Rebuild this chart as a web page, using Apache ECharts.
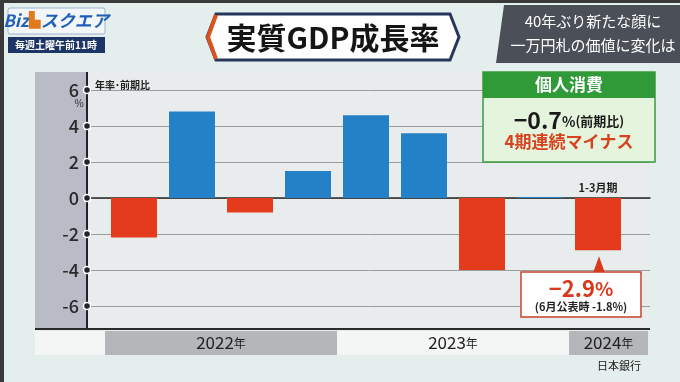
<!DOCTYPE html>
<html><head><meta charset="utf-8">
<script src="https://cdn.jsdelivr.net/npm/echarts@6/dist/echarts.min.js"></script>
<style>html,body{margin:0;padding:0;background:#e4eeed}#c{width:680px;height:382px}</style>
</head><body><div id="c"></div>
<script>
// ---- data ----
const quarters = ['2022Q1','2022Q2','2022Q3','2022Q4','2023Q1','2023Q2','2023Q3','2023Q4','2024Q1'];
const growth = [-2.2, 4.8, -0.8, 1.5, 4.6, 3.6, -4.0, 0.06, -2.9];
const yTicks = [-6, -4, -2, 0, 2, 4, 6];
const years = ['2022', '2023', '2024'];
const yearCounts = [4, 4, 1];

const FONT = '"Noto Sans CJK JP", "Noto Sans", sans-serif';
const BLUE = '#2481c8', RED = '#e33b1c';

const chart = echarts.init(document.getElementById('c'));

const option = {
  animation: false,
  backgroundColor: '#e4eeed',
  textStyle: { fontFamily: FONT },
  grid: [
    { left: 87, right: 30, top: 90, bottom: 76 },
    { left: 105, right: 53, top: 90, bottom: 76 }
  ],
  xAxis: [
    { gridIndex: 0, type: 'value', min: 0, max: 1, axisLabel: { show: false }, axisTick: { show: false }, splitLine: { show: false },
      axisLine: { onZero: true, lineStyle: { color: '#2a2a2a', width: 1.5 } } },
    { gridIndex: 1, type: 'category', data: quarters, show: false }
  ],
  yAxis: [
    { gridIndex: 0, type: 'value', min: -6, max: 6, interval: 2,
      axisLine: { show: false }, axisTick: { show: false },
      splitLine: { lineStyle: { color: '#9a9c9e', width: 1 } },
      axisLabel: { margin: 8, fontSize: 18, color: '#2a2a2a', fontFamily: FONT, fontWeight: 500, formatter: v => String(v) } },
    { gridIndex: 1, type: 'value', min: -6, max: 6, show: false }
  ],
  series: [
    { type: 'bar', xAxisIndex: 1, yAxisIndex: 1, barWidth: 46, z: 3,
      data: growth.map(v => ({ value: v, itemStyle: { color: v >= 0 ? BLUE : RED } })) },
    { type: 'scatter', xAxisIndex: 0, yAxisIndex: 0, symbol: 'circle', symbolSize: 7, z: 5,
      itemStyle: { color: '#1e2233', borderColor: '#ffffff', borderWidth: 1.5, opacity: 1 },
      data: yTicks.map(v => [0, v]) }
  ]
};
chart.setOption(option);

// decorations laid out from the axes
const slot = chart.convertToPixel({ xAxisIndex: 1 }, 1) - chart.convertToPixel({ xAxisIndex: 1 }, 0);
const firstStart = chart.convertToPixel({ xAxisIndex: 1 }, 0) - slot / 2;
const yTop = 72, yBot = 329, panelL = 35, axisX = 87, panelR = 650;
const g = [];
// header pieces
g.push({ type: 'rect', z: -20, shape: { x: 0, y: 0, width: 680, height: 3 }, style: { fill: '#3a3a3a' } });
g.push({ type: 'rect', z: -20, shape: { x: 0, y: 0, width: 4, height: 382 }, style: { fill: '#3a3a3a' } });
// logo
g.push({ type: 'rect', z: 10, shape: { x: 8, y: 8, width: 97, height: 26, r: 2 }, style: { fill: '#f2f6f8', stroke: '#9bb3cf', lineWidth: 1 } });
g.push({ type: 'text', z: 11, style: { x: 56, y: 21, text: '{a|Biz}{b|▙}{a|スクエア}', align: 'center', verticalAlign: 'middle',
  rich: { a: { fontSize: 17, fontWeight: 'bold', fontStyle: 'italic', fill: '#1f5fb8', fontFamily: FONT }, b: { fontSize: 15, fill: '#e07a1a' } } } });
g.push({ type: 'rect', z: 10, shape: { x: 8, y: 37, width: 97, height: 16 }, style: { fill: '#1d3566' } });
g.push({ type: 'text', z: 11, style: { x: 56, y: 45, text: '毎週土曜午前11時', align: 'center', verticalAlign: 'middle', fontSize: 10, fontWeight: 'bold', fill: '#ffffff', fontFamily: FONT } });
// title box
g.push({ type: 'polygon', z: 10, shape: { points: [[216,14],[450,14],[459,37],[450,60],[216,60],[207,37]] }, style: { fill: '#ffffff', stroke: '#27365c', lineWidth: 3 } });
g.push({ type: 'polyline', z: 11, shape: { points: [[216,15],[208,37],[216,59]] }, style: { stroke: '#d9531e', lineWidth: 4 } });
g.push({ type: 'text', z: 11, style: { x: 333, y: 38, text: '実質GDP成長率', align: 'center', verticalAlign: 'middle', fontSize: 30, fontWeight: 'bold', fill: '#151515', fontFamily: FONT } });
// right header
g.push({ type: 'polygon', z: 10, shape: { points: [[504,5],[680,5],[680,63],[496,63]] }, style: { fill: '#4b5058' } });
g.push({ type: 'text', z: 11, style: { x: 593, y: 21, text: '40年ぶり新たな顔に', align: 'center', verticalAlign: 'middle', fontSize: 15, fill: '#ffffff', fontFamily: FONT } });
g.push({ type: 'text', z: 11, style: { x: 593, y: 45, text: '一万円札の価値に変化は', align: 'center', verticalAlign: 'middle', fontSize: 15, fill: '#ffffff', fontFamily: FONT } });
// panel backgrounds
g.push({ type: 'rect', z: -10, shape: { x: panelL, y: yTop, width: axisX - panelL, height: yBot - yTop }, style: { fill: '#b9bbc6' } });
g.push({ type: 'rect', z: -10, shape: { x: axisX, y: yTop, width: panelR - axisX, height: yBot - yTop }, style: { fill: '#e9ecec' } });
g.push({ type: 'line', z: 4, shape: { x1: axisX, y1: yTop, x2: axisX, y2: yBot }, style: { stroke: '#1e2233', lineWidth: 2 } });
g.push({ type: 'line', z: 4, shape: { x1: panelL, y1: yBot, x2: panelR, y2: yBot }, style: { stroke: '#2a2a2a', lineWidth: 2 } });
g.push({ type: 'text', z: 5, style: { x: 79, y: 103, text: '%', align: 'center', verticalAlign: 'middle', fontSize: 10, fill: '#2a2a2a', fontFamily: FONT } });
g.push({ type: 'text', z: 5, style: { x: 95, y: 85, text: '年率･前期比', align: 'left', verticalAlign: 'middle', fontSize: 10, fontWeight: 'bold', fill: '#222', fontFamily: FONT } });
// year band
const bandTop = 331, bandH = 24;
g.push({ type: 'rect', z: -5, shape: { x: panelL, y: bandTop, width: firstStart - panelL, height: bandH }, style: { fill: '#f4f5f5' } });
let start = 0;
years.forEach((yr, i) => {
  const x0 = firstStart + start * slot;
  let x1 = firstStart + (start + yearCounts[i]) * slot;
  if (i === years.length - 1) x1 = panelR - 2;
  g.push({ type: 'rect', z: -5, shape: { x: x0, y: bandTop, width: x1 - x0, height: bandH }, style: { fill: i % 2 === 0 ? '#b5b6b9' : '#f4f5f5' } });
  g.push({ type: 'text', z: 5, style: { x: (x0 + x1) / 2, y: bandTop + bandH / 2, text: '{a|' + yr + '}{b|年}', align: 'center', verticalAlign: 'middle',
    rich: { a: { fontSize: 17, fill: '#222', fontFamily: FONT }, b: { fontSize: 12, fill: '#222', fontFamily: FONT } } } });
  start += yearCounts[i];
});
g.push({ type: 'text', z: 5, style: { x: 641, y: 366, text: '日本銀行', align: 'right', verticalAlign: 'middle', fontSize: 11, fill: '#222', fontFamily: FONT } });
// green box
g.push({ type: 'rect', z: 10, shape: { x: 483, y: 72, width: 172, height: 90 }, style: { fill: '#e5f4dc', stroke: '#3a9c40', lineWidth: 1.5 } });
g.push({ type: 'rect', z: 10, shape: { x: 483, y: 72, width: 172, height: 26 }, style: { fill: '#309a38' } });
g.push({ type: 'text', z: 11, style: { x: 569, y: 85, text: '個人消費', align: 'center', verticalAlign: 'middle', fontSize: 17, fontWeight: 'bold', fill: '#ffffff', fontFamily: FONT } });
g.push({ type: 'text', z: 11, style: { x: 569, y: 120, text: '{a|−0.7}{b|%}{c|(前期比)}', align: 'center', verticalAlign: 'middle',
  rich: { a: { fontSize: 23, fontWeight: 'bold', fill: '#1a1a1a', fontFamily: FONT }, b: { fontSize: 14, fontWeight: 'bold', fill: '#1a1a1a', fontFamily: FONT, padding: [4,0,0,0] }, c: { fontSize: 13, fontWeight: 'bold', fill: '#1a1a1a', fontFamily: FONT, padding: [3,0,0,0] } } } });
g.push({ type: 'text', z: 11, style: { x: 569, y: 142, text: '4期連続マイナス', align: 'center', verticalAlign: 'middle', fontSize: 17, fontWeight: 'bold', fill: '#d8431f', fontFamily: FONT } });
// last-quarter annotations
const lastX = chart.convertToPixel({ xAxisIndex: 1 }, quarters.length - 1);
const lastY = chart.convertToPixel({ yAxisIndex: 1 }, growth[growth.length - 1]);
g.push({ type: 'text', z: 5, style: { x: lastX, y: 188, text: '1-3月期', align: 'center', verticalAlign: 'middle', fontSize: 11, fontWeight: 'bold', fill: '#222', fontFamily: FONT } });
g.push({ type: 'polygon', z: 6, shape: { points: [[lastX + 1, lastY + 6],[lastX - 5, 273],[lastX + 7, 273]] }, style: { fill: '#d83a1c' } });
g.push({ type: 'rect', z: 6, shape: { x: 521, y: 272, width: 120, height: 45 }, style: { fill: '#ffffff', stroke: '#c9432a', lineWidth: 1.5 } });
g.push({ type: 'text', z: 7, style: { x: 581, y: 289, text: '{a|−2.9}{b|%}', align: 'center', verticalAlign: 'middle',
  rich: { a: { fontSize: 22, fontWeight: 'bold', fill: '#d8391c', fontFamily: FONT }, b: { fontSize: 19, fontWeight: 'bold', fill: '#d8391c', fontFamily: FONT } } } });
g.push({ type: 'text', z: 7, style: { x: 581, y: 307, text: '(6月公表時 -1.8%)', align: 'center', verticalAlign: 'middle', fontSize: 11, fontWeight: 'bold', fill: '#222', fontFamily: FONT } });

chart.setOption({ graphic: g });
</script></body></html>
